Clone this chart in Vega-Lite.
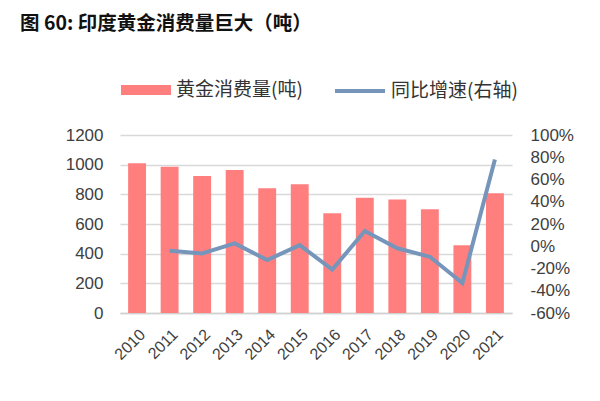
{
  "$schema": "https://vega.github.io/schema/vega-lite/v6.json",
  "width": 392,
  "height": 178,
  "autosize": {"type": "none"},
  "padding": {"left": 120, "top": 135, "right": 88, "bottom": 88},
  "background": "white",
  "title": {
    "text": "图 60: 印度黄金消费量巨大（吨）",
    "anchor": "start",
    "frame": "group",
    "dx": -100,
    "offset": 30,
    "font": "Noto Sans CJK SC",
    "fontSize": 19.5,
    "fontWeight": "bold",
    "color": "#111111"
  },
  "data": {
    "values": [
      {"year": "2010", "consumption": 1009, "growth": null},
      {"year": "2011", "consumption": 986, "growth": -4},
      {"year": "2012", "consumption": 924, "growth": -6.4},
      {"year": "2013", "consumption": 964, "growth": 2.6},
      {"year": "2014", "consumption": 841, "growth": -12.4},
      {"year": "2015", "consumption": 868, "growth": 1},
      {"year": "2016", "consumption": 672, "growth": -21},
      {"year": "2017", "consumption": 777, "growth": 13.7},
      {"year": "2018", "consumption": 766, "growth": -1.8},
      {"year": "2019", "consumption": 699, "growth": -9.4},
      {"year": "2020", "consumption": 456, "growth": -33},
      {"year": "2021", "consumption": 807, "growth": 78}
    ]
  },
  "encoding": {
    "x": {
      "field": "year",
      "type": "ordinal",
      "scale": {"paddingInner": 0.45, "paddingOuter": 0.25},
      "axis": {
        "title": null,
        "labelAngle": -45,
        "labelFontSize": 16,
        "labelColor": "#404040",
        "labelFont": "Liberation Sans",
        "ticks": false,
        "labelPadding": 13,
        "domainColor": "#d0d0d0",
        "domainWidth": 1.5
      }
    }
  },
  "layer": [
    {
      "mark": {"type": "bar", "color": "#FF7F7F"},
      "encoding": {
        "y": {
          "field": "consumption",
          "type": "quantitative",
          "scale": {"domain": [0, 1200]},
          "axis": {
            "title": null,
            "values": [0, 200, 400, 600, 800, 1000, 1200],
            "format": "d",
            "ticks": false,
            "domain": false,
            "labelPadding": 17,
            "labelFontSize": 17,
            "labelColor": "#404040",
            "labelFont": "Liberation Sans",
            "gridColor": "#d9d9d9",
            "gridWidth": 1.5
          }
        },
        "fill": {
          "datum": "黄金消费量(吨)",
          "type": "nominal",
          "scale": {"range": ["#FF7F7F"]},
          "legend": {
            "orient": "top",
            "title": null,
            "symbolType": "M-1,-0.2H1V0.2H-1Z",
            "symbolSize": 2500,
            "labelFontSize": 19,
            "labelFont": "Noto Sans CJK SC",
            "labelColor": "#333333",
            "offset": 34
          }
        }
      }
    },
    {
      "mark": {"type": "line", "strokeWidth": 4, "color": "#7596BA"},
      "encoding": {
        "y": {
          "field": "growth",
          "type": "quantitative",
          "scale": {"domain": [-60, 100]},
          "axis": {
            "orient": "right",
            "title": null,
            "values": [-60, -40, -20, 0, 20, 40, 60, 80, 100],
            "labelExpr": "datum.value + '%'",
            "ticks": false,
            "domain": false,
            "grid": false,
            "labelPadding": 18,
            "labelFontSize": 17,
            "labelColor": "#404040",
            "labelFont": "Liberation Sans"
          }
        },
        "stroke": {
          "datum": "同比增速(右轴)",
          "type": "nominal",
          "scale": {"range": ["#7596BA"]},
          "legend": {
            "orient": "top",
            "title": null,
            "symbolType": "stroke",
            "symbolSize": 2500,
            "symbolStrokeWidth": 4,
            "labelFontSize": 19,
            "labelFont": "Noto Sans CJK SC",
            "labelColor": "#333333",
            "offset": 34
          }
        }
      }
    }
  ],
  "resolve": {"scale": {"y": "independent", "fill": "independent", "stroke": "independent"}},
  "config": {"view": {"stroke": null}, "legend": {"layout": {"top": {"margin": 30}}}}
}
